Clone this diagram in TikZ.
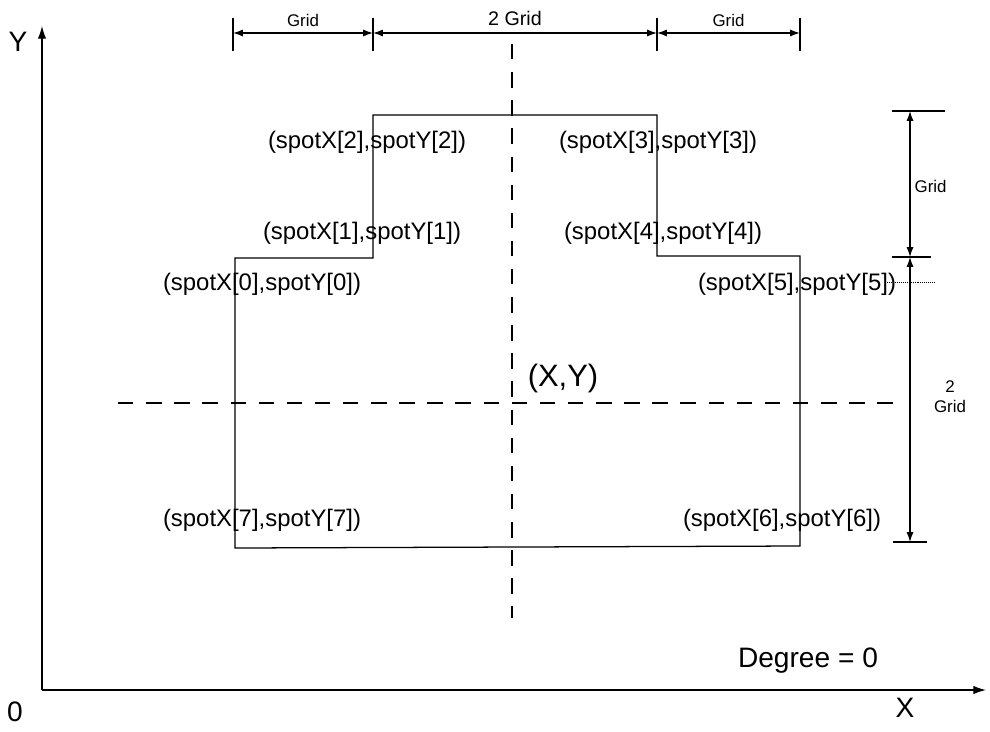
\documentclass[tikz,border=0pt]{standalone}
\usepackage{fontspec}
\setmainfont{Liberation Sans}
\usetikzlibrary{arrows.meta}

\begin{document}
\begin{tikzpicture}[
  x=0.025cm,y=-0.025cm,line width=0.9pt,
  spot/.style={inner sep=0pt,font=\fontsize{17}{19}\selectfont},
  dimtxt/.style={inner sep=0pt,font=\fontsize{12}{14}\selectfont},
  big/.style={inner sep=0pt,font=\fontsize{20}{22}\selectfont},
  centre/.style={dash pattern=on 11pt off 9pt},
  dimarr/.style={{Latex[length=7pt,width=5pt]}-{Latex[length=7pt,width=5pt]}},
  tip/.style={-{Latex[length=9pt,width=6pt]}}
]
  \useasboundingbox (0,0) rectangle (990,731);

  % axes
  \coordinate (O) at (42,690);
  \coordinate (xend) at (986,690);
  \coordinate (yend) at (42,26);
  \draw[tip] (O) -- (xend);
  \draw[tip] (O) -- (yend);
  \node[big] (ylab) at (18,42) {Y};
  \node[big] (olab) at (15,712) {0};
  \node[big] (xlab) at (905,708) {X};

  % outline
  \coordinate (s0) at (235,258);
  \coordinate (s1) at (373,258);
  \coordinate (s2) at (373,115);
  \coordinate (s3) at (657,115);
  \coordinate (s4) at (657,256);
  \coordinate (s5) at (800,256);
  \coordinate (s6) at (800,546);
  \coordinate (s7) at (235,548);
  \draw (s0) -- (s1) -- (s2) -- (s3) -- (s4) -- (s5) -- (s6) -- (s7) -- cycle;

  % centre lines
  \coordinate (vtop) at (512,44);
  \coordinate (vbot) at (512,618);
  \coordinate (hl) at (118,403);
  \coordinate (hr) at (900,403);
  \draw[centre] (vtop) -- (vbot);
  \draw[centre] (hl) -- (hr);
  \node[big,font=\fontsize{22}{24}\selectfont] (XY) at (563,378) {(X,Y)};

  \node[spot] (l0) at (262,284) {(spotX[0],spotY[0])};
  \node[spot] (l1) at (362,233) {(spotX[1],spotY[1])};
  \node[spot] (l2) at (367,142) {(spotX[2],spotY[2])};
  \node[spot] (l3) at (658,142) {(spotX[3],spotY[3])};
  \node[spot] (l4) at (663,233) {(spotX[4],spotY[4])};
  \node[spot] (l5) at (797,284) {(spotX[5],spotY[5])};
  \node[spot] (l6) at (782,520) {(spotX[6],spotY[6])};
  \node[spot] (l7) at (262,520) {(spotX[7],spotY[7])};

  % top dimension
  \coordinate (ta) at (233,33);
  \coordinate (tb) at (373,33);
  \coordinate (tc) at (657,33);
  \coordinate (td) at (800,33);
  \foreach \t in {ta,tb,tc,td}
    \draw ([yshift=11]\t) -- ([yshift=-13]\t);
  \draw[dimarr] (ta) -- (tb) node[dimtxt,midway,above=4pt] (g1) {Grid};
  \draw[dimarr] (tb) -- (tc) node[dimtxt,midway,above=5pt,font=\fontsize{14}{16}\selectfont] (g2) {2 Grid};
  \draw[dimarr] (tc) -- (td) node[dimtxt,midway,above=4pt] (g3) {Grid};

  % right dimension
  \coordinate (ra) at (910,111);
  \coordinate (rb) at (910,257);
  \coordinate (rc) at (910,542);
  \draw ([xshift=-13]ra) -- ([xshift=25]ra);
  \draw ([xshift=-13]rb) -- ([xshift=15]rb);
  \draw ([xshift=-12]rc) -- ([xshift=12]rc);
  \draw[dimarr] (ra) -- (rb);
  \draw[dimarr] (rb) -- (rc);
  \node[dimtxt,anchor=west] (g4) at (914,186) {Grid};
  \node[dimtxt,align=center] (g5) at (950,397) {2\\Grid};
  \draw[densely dotted,line width=0.4pt] (885,282) -- (935,282);

  \node[big] (deg) at (808,661) {Degree = 0};
\end{tikzpicture}
\end{document}
